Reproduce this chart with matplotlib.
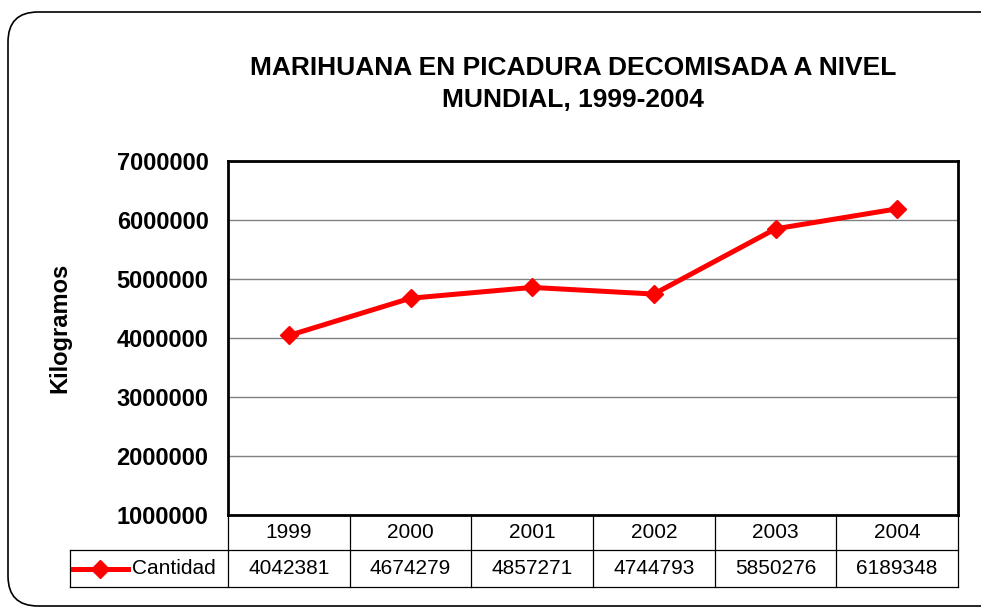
import matplotlib.pyplot as plt
from matplotlib.patches import FancyBboxPatch

plt.rcParams['font.family'] = ['Liberation Sans', 'DejaVu Sans']

# Datos
anios = ['1999', '2000', '2001', '2002', '2003', '2004']
cantidad = [4042381, 4674279, 4857271, 4744793, 5850276, 6189348]
y_ticks = [1000000, 2000000, 3000000, 4000000, 5000000, 6000000, 7000000]
serie = 'Cantidad'
titulo = 'MARIHUANA EN PICADURA DECOMISADA A NIVEL\nMUNDIAL, 1999-2004'

rojo = '#ff0000'

fig = plt.figure(figsize=(9.81, 6.09), dpi=100)

# marco redondeado (se sale por la derecha como en el original)
marco = FancyBboxPatch((0.08, 0.03), 10.2, 5.94,
                       boxstyle='round,pad=0,rounding_size=0.3',
                       transform=fig.dpi_scale_trans, fill=False,
                       edgecolor='black', linewidth=1.2, clip_on=False)
fig.patches.append(marco)

ax = fig.add_axes([228 / 981, 94 / 609, 730 / 981, 354 / 609])

x = list(range(len(anios)))
ax.plot(x, cantidad, color=rojo, linewidth=3.6, marker='D', markersize=9,
        markerfacecolor=rojo, markeredgecolor=rojo, zorder=3)

ax.set_xlim(-0.5, len(anios) - 0.5)
ax.set_ylim(y_ticks[0], y_ticks[-1])
ax.set_yticks(y_ticks)
ax.set_yticklabels([str(v) for v in y_ticks], fontsize=17, fontweight='bold')
ax.tick_params(axis='y', length=0, pad=14)
ax.set_xticks([])
ax.grid(axis='y', color='#808080', linewidth=1)
for s in ax.spines.values():
    s.set_linewidth(2)

fig.text(573 / 981, 1 - 84 / 609, titulo, ha='center', va='center',
         fontsize=19, fontweight='bold', linespacing=1.45)
fig.text(60 / 981, 1 - 328 / 609, 'Kilogramos', rotation=90, ha='center',
         va='center', fontsize=17, fontweight='bold')

# Tabla de datos debajo del gráfico
tr = ax.get_xaxis_transform()
y_mid = -35 / 354
y_bot = -72 / 354
x_leg = -158 / 730
for i in range(len(anios) + 1):
    ax.plot([i - 0.5, i - 0.5], [0, y_bot], transform=tr, color='black',
            linewidth=0.9, clip_on=False)
for yy in (y_mid, y_bot):
    ax.plot([x_leg, 1], [yy, yy], transform=ax.transAxes, color='black',
            linewidth=0.9, clip_on=False)
ax.plot([x_leg, x_leg], [y_mid, y_bot], transform=ax.transAxes, color='black',
        linewidth=0.9, clip_on=False)

for i, (a, c) in enumerate(zip(anios, cantidad)):
    ax.text(i, y_mid / 2, a, transform=tr, ha='center', va='center', fontsize=15)
    ax.text(i, (y_mid + y_bot) / 2, str(c), transform=tr, ha='center',
            va='center', fontsize=15)

# clave de la leyenda
yk = (y_mid + y_bot) / 2
ax.plot([-155 / 730, -100 / 730], [yk, yk], transform=ax.transAxes, color=rojo,
        linewidth=3.6, clip_on=False)
ax.plot([-128 / 730], [yk], transform=ax.transAxes, marker='D', markersize=9,
        color=rojo, clip_on=False)
ax.text(-96 / 730, yk, serie, transform=ax.transAxes, ha='left', va='center',
        fontsize=15)

fig.savefig('out.png', dpi=100)
